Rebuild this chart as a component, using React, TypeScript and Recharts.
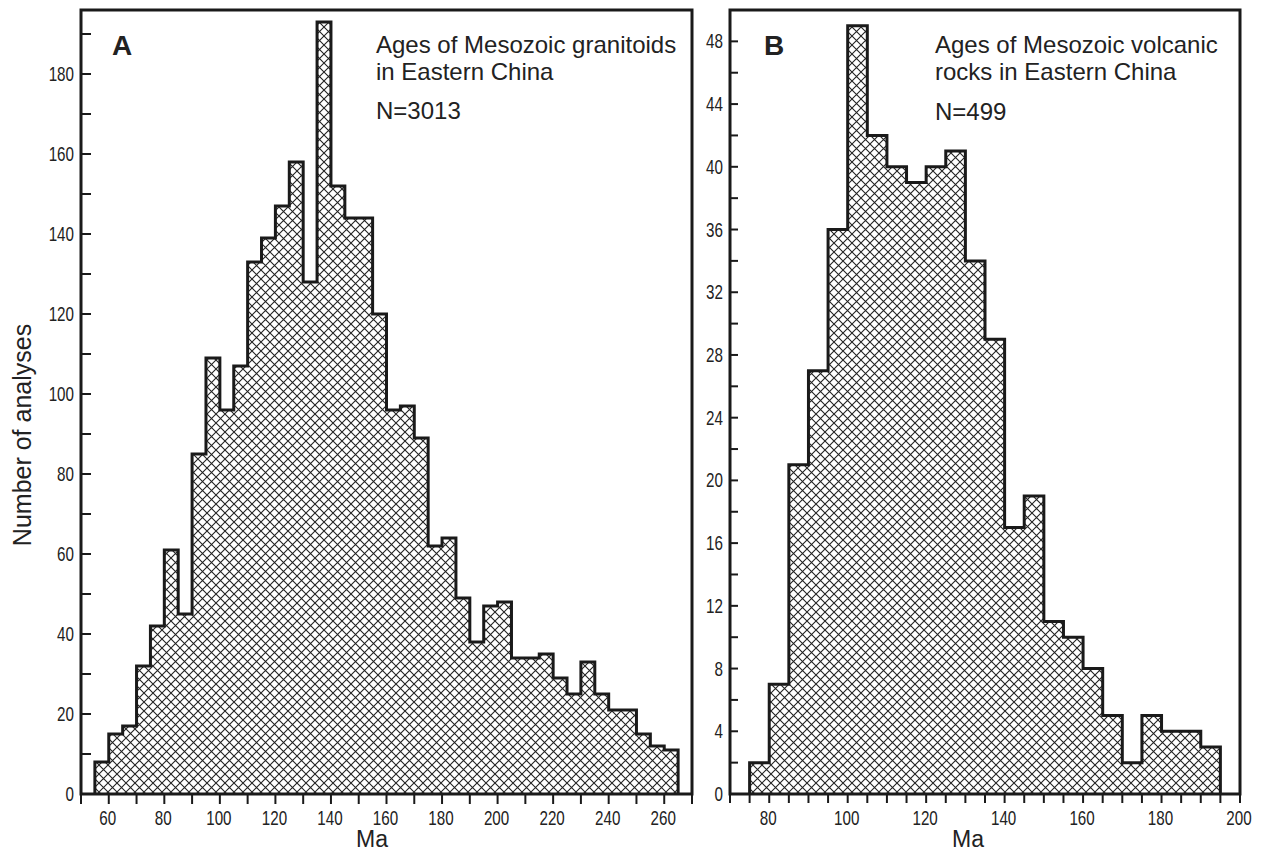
import React from 'react';
import { AreaChart, Area, XAxis, YAxis, ReferenceArea } from 'recharts';

// 5 Ma bins, start age of each bin
const graniteBins = [
  55, 60, 65, 70, 75, 80, 85, 90, 95, 100, 105, 110, 115, 120, 125, 130, 135, 140, 145, 150, 155,
  160, 165, 170, 175, 180, 185, 190, 195, 200, 205, 210, 215, 220, 225, 230, 235, 240, 245, 250, 255, 260,
];
const graniteCounts = [
  8, 15, 17, 32, 42, 61, 45, 85, 109, 96, 107, 133, 139, 147, 158, 128, 193, 152, 144, 144, 120,
  96, 97, 89, 62, 64, 49, 38, 47, 48, 34, 34, 35, 29, 25, 33, 25, 21, 21, 15, 12, 11,
];
const graniteEnd = 265;

const volcanicBins = [
  75, 80, 85, 90, 95, 100, 105, 110, 115, 120, 125, 130, 135, 140, 145, 150, 155, 160, 165, 170,
  175, 180, 185, 190,
];
const volcanicCounts = [
  2, 7, 21, 27, 36, 49, 42, 40, 39, 40, 41, 34, 29, 17, 19, 11, 10, 8, 5, 2,
  5, 4, 4, 3,
];
const volcanicEnd = 195;

// axis ticks (minor + major) and which ones get a label
const graniteXTicks = [50, 60, 70, 80, 90, 100, 110, 120, 130, 140, 150, 160, 170, 180, 190, 200, 210, 220, 230, 240, 250, 260, 270];
const graniteXLabels = [60, 80, 100, 120, 140, 160, 180, 200, 220, 240, 260];
const graniteYTicks = [0, 10, 20, 30, 40, 50, 60, 70, 80, 90, 100, 110, 120, 130, 140, 150, 160, 170, 180, 190];
const graniteYLabels = [0, 20, 40, 60, 80, 100, 120, 140, 160, 180];

const volcanicXTicks = [70, 75, 80, 85, 90, 95, 100, 105, 110, 115, 120, 125, 130, 135, 140, 145, 150, 155, 160, 165, 170, 175, 180, 185, 190, 195, 200];
const volcanicXLabels = [80, 100, 120, 140, 160, 180, 200];
const volcanicYTicks = [0, 2, 4, 6, 8, 10, 12, 14, 16, 18, 20, 22, 24, 26, 28, 30, 32, 34, 36, 38, 40, 42, 44, 46, 48];
const volcanicYLabels = [0, 4, 8, 12, 16, 20, 24, 28, 32, 36, 40, 44, 48];

const TEXT_FONT = "'Liberation Sans', Arial, Helvetica, sans-serif";
const INK = '#1a1a1a';

// outline of the histogram as a step curve that starts and ends on the baseline
const toSteps = (starts: number[], counts: number[], end: number) => [
  { age: starts[0], count: 0 },
  ...starts.map((age, i) => ({ age, count: counts[i] })),
  { age: end, count: counts[counts.length - 1] },
  { age: end, count: 0 },
];

// no narrow font installed, so the tick numbers are squeezed horizontally
const NarrowText = ({ x, y, anchor, children }: any) => (
  <text
    transform={`translate(${x},${y}) scale(0.76,1)`}
    textAnchor={anchor}
    fontFamily={TEXT_FONT}
    fontSize={20}
    fill="#222"
  >
    {children}
  </text>
);

const YTick = (props: any) => {
  const { x, y, payload, labels, len } = props;
  const show = labels.includes(payload.value);
  return (
    <g>
      <line x1={x} x2={x + len} y1={y} y2={y} stroke={INK} strokeWidth={2} />
      {show && <NarrowText x={x - 7} y={y + 7} anchor="end">{payload.value}</NarrowText>}
    </g>
  );
};

const XTick = (props: any) => {
  const { x, y, payload, labels, len } = props;
  const show = labels.includes(payload.value);
  return (
    <g>
      <line x1={x} x2={x} y1={y} y2={y + len} stroke={INK} strokeWidth={2} />
      {show && <NarrowText x={x - 1} y={y + 31} anchor="middle">{payload.value}</NarrowText>}
    </g>
  );
};

interface PanelProps {
  id: string;
  left: number;
  width: number;
  marginLeft: number;
  marginRight: number;
  data: { age: number; count: number }[];
  xDomain: [number, number];
  yDomain: [number, number];
  xTicks: number[];
  xLabels: number[];
  yTicks: number[];
  yLabels: number[];
  yTickLen: number;
  xTickLen: number;
}

// axes need a non-zero size or recharts skips them, so 1px each
const HistPanel = ({
  id, left, width, marginLeft, marginRight, data, xDomain, yDomain,
  xTicks, xLabels, yTicks, yLabels, yTickLen, xTickLen,
}: PanelProps) => (
  <div style={{ position: 'absolute', left, top: 0 }}>
    <AreaChart
      width={width}
      height={851}
      data={data}
      margin={{ top: 10, right: marginRight, bottom: 56, left: marginLeft - 1 }}
    >
      <defs>
        <pattern id={id} width={9} height={9} patternUnits="userSpaceOnUse">
          <path d="M-1,-1 L10,10 M10,-1 L-1,10" stroke="#222" strokeWidth={1.1} />
        </pattern>
      </defs>
      <XAxis
        dataKey="age"
        type="number"
        domain={xDomain}
        ticks={xTicks}
        interval={0}
        height={1}
        tickSize={0}
        tickMargin={0}
        axisLine={false}
        tickLine={false}
        tick={(p: any) => <XTick {...p} labels={xLabels} len={xTickLen} />}
      />
      <YAxis
        type="number"
        domain={yDomain}
        ticks={yTicks}
        interval={0}
        width={1}
        tickSize={0}
        tickMargin={0}
        axisLine={false}
        tickLine={false}
        allowDataOverflow
        tick={(p: any) => <YTick {...p} labels={yLabels} len={yTickLen} />}
      />
      <Area
        type="stepAfter"
        dataKey="count"
        stroke={INK}
        strokeWidth={3}
        fill={`url(#${id})`}
        fillOpacity={1}
        dot={false}
        activeDot={false}
        isAnimationActive={false}
      />
      <ReferenceArea
        x1={xDomain[0]}
        x2={xDomain[1]}
        y1={yDomain[0]}
        y2={yDomain[1]}
        fill="none"
        stroke={INK}
        strokeWidth={3}
      />
    </AreaChart>
  </div>
);

export default function App() {
  const graniteData = toSteps(graniteBins, graniteCounts, graniteEnd);
  const volcanicData = toSteps(volcanicBins, volcanicCounts, volcanicEnd);

  return (
    <div style={{ position: 'absolute', left: 0, top: 0, width: 1262, height: 851, background: '#fff' }}>
      <HistPanel
        id="hatchA"
        left={0}
        width={700}
        marginLeft={81}
        marginRight={8}
        data={graniteData}
        xDomain={[50, 270]}
        yDomain={[0, 196]}
        xTicks={graniteXTicks}
        xLabels={graniteXLabels}
        yTicks={graniteYTicks}
        yLabels={graniteYLabels}
        yTickLen={10}
        xTickLen={10}
      />
      <HistPanel
        id="hatchB"
        left={690}
        width={572}
        marginLeft={40}
        marginRight={22}
        data={volcanicData}
        xDomain={[70, 200]}
        yDomain={[0, 50]}
        xTicks={volcanicXTicks}
        xLabels={volcanicXLabels}
        yTicks={volcanicYTicks}
        yLabels={volcanicYLabels}
        yTickLen={8}
        xTickLen={9}
      />
      {/* panel letters, captions and axis titles */}
      <svg
        width={1262}
        height={851}
        style={{ position: 'absolute', left: 0, top: 0, pointerEvents: 'none' }}
        fontFamily={TEXT_FONT}
        fill="#222"
      >
        <text x={112} y={55} fontSize={28} fontWeight="bold">A</text>
        <text x={376} y={53} fontSize={24}>Ages of Mesozoic granitoids</text>
        <text x={376} y={80} fontSize={24}>in Eastern China</text>
        <text x={376} y={119} fontSize={24}>N=3013</text>

        <text x={764} y={55} fontSize={28} fontWeight="bold">B</text>
        <text x={935} y={53} fontSize={24}>Ages of Mesozoic volcanic</text>
        <text x={935} y={80} fontSize={24}>rocks in Eastern China</text>
        <text x={935} y={120} fontSize={24}>N=499</text>

        <text x={31} y={435} fontSize={25} textAnchor="middle" transform="rotate(-90 31 435)">
          Number of analyses
        </text>
        <text x={372} y={847} fontSize={23} textAnchor="middle">Ma</text>
        <text x={968} y={847} fontSize={23} textAnchor="middle">Ma</text>
      </svg>
    </div>
  );
}
